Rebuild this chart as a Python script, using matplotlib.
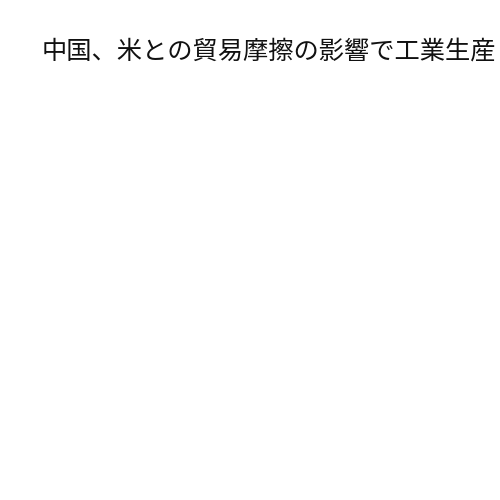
import matplotlib

matplotlib.use("Agg")
import matplotlib.pyplot as plt

plt.rcParams["font.family"] = ["Noto Sans CJK JP", "DejaVu Sans"]

title_text = "中国、米との貿易摩擦の影響で工業生産"

fig = plt.figure(figsize=(5, 5), dpi=100)
fig.patch.set_facecolor("white")
fig.text(0.084, 0.897, title_text, fontsize=18.2, color="#111111",
         ha="left", va="center")
fig.savefig("out.png", dpi=100, facecolor="white")
plt.close(fig)
